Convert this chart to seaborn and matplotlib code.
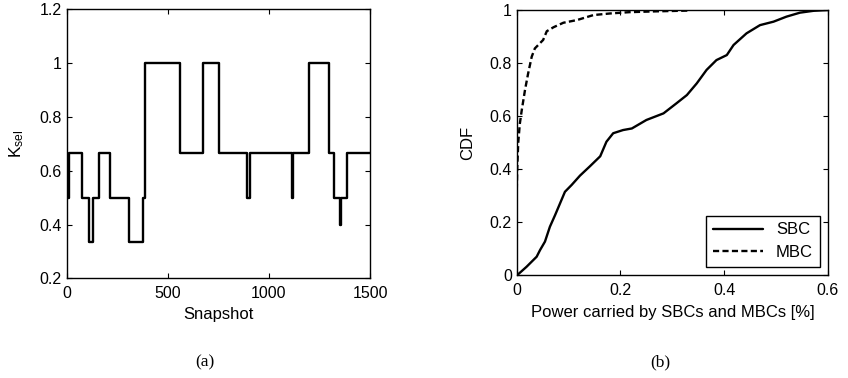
import matplotlib
matplotlib.use('Agg')
import matplotlib.pyplot as plt
import numpy as np
import pandas as pd
import seaborn as sns

# K_sel per snapshot (start of each step and its value)
snap_start = [0, 10, 74, 112, 132, 161, 214, 310, 379, 388, 560, 674, 753,
              892, 908, 1114, 1118, 1197, 1299, 1323, 1350, 1356, 1384, 1500]
ksel_level = [0.5, 2/3, 0.5, 1/3, 0.5, 2/3, 0.5, 1/3, 0.5, 1.0, 2/3, 1.0, 2/3,
              0.5, 2/3, 0.5, 2/3, 1.0, 2/3, 0.5, 0.4, 0.5, 2/3, 2/3]

# CDF of carried power
sbc_x = [0.0, 0.003, 0.019, 0.0385, 0.045, 0.0545, 0.064, 0.074, 0.0835, 0.093,
         0.106, 0.122, 0.141, 0.161, 0.173, 0.186, 0.205, 0.222, 0.25, 0.283,
         0.308, 0.328, 0.347, 0.366, 0.385, 0.405, 0.418, 0.443, 0.469, 0.495,
         0.52, 0.546, 0.572, 0.6]
sbc_y = [0.0, 0.003, 0.031, 0.069, 0.094, 0.126, 0.182, 0.226, 0.27, 0.314,
         0.34, 0.375, 0.41, 0.448, 0.503, 0.535, 0.547, 0.553, 0.585, 0.61,
         0.648, 0.679, 0.723, 0.774, 0.811, 0.83, 0.868, 0.912, 0.943, 0.956,
         0.975, 0.99, 0.997, 1.0]
mbc_x = [0.0, 0.0, 0.001, 0.003, 0.006, 0.0096, 0.016, 0.022, 0.029, 0.035,
         0.051, 0.058, 0.071, 0.09, 0.116, 0.148, 0.18, 0.218, 0.27, 0.334]
mbc_y = [0.0, 0.3, 0.4, 0.5, 0.57, 0.62, 0.698, 0.76, 0.824, 0.855,
         0.887, 0.92, 0.935, 0.952, 0.962, 0.981, 0.987, 0.992, 0.995, 0.998]

sns.set_theme(style='ticks')
plt.rcParams['font.family'] = ['Liberation Sans', 'DejaVu Sans']
plt.rcParams['mathtext.fontset'] = 'custom'
plt.rcParams['mathtext.rm'] = 'Liberation Sans'
plt.rcParams['mathtext.it'] = 'Liberation Sans:italic'
plt.rcParams.update({
    'font.size': 11.5,
    'legend.fontsize': 12,
    'axes.edgecolor': 'black',
    'axes.linewidth': 1.0,
    'xtick.direction': 'in',
    'ytick.direction': 'in',
    'xtick.top': True,
    'ytick.right': True,
    'xtick.major.size': 3.5,
    'ytick.major.size': 3.5,
    'xtick.major.width': 0.8,
    'ytick.major.width': 0.8,
    'xtick.color': 'black',
    'ytick.color': 'black',
    'xtick.labelsize': 11.5,
    'ytick.labelsize': 11.5,
    'xtick.major.pad': 5.5,
    'ytick.major.pad': 3.5,
    'text.color': 'black',
    'axes.labelcolor': 'black',
})

fig = plt.figure(figsize=(8.48, 3.78), dpi=100)
ax1 = fig.add_axes([0.0787, 0.2637, 0.3577, 0.7117])
ax2 = fig.add_axes([0.6093, 0.2725, 0.3671, 0.7010])

# (a) step plot
sns.lineplot(x=snap_start, y=ksel_level, ax=ax1, color='black', lw=1.7,
             drawstyle='steps-post', estimator=None, sort=False)
ax1.set_xlim(0, 1500)
ax1.set_ylim(0.2, 1.2)
ax1.set_xticks([0, 500, 1000, 1500])
ax1.set_xticklabels(['0', '500', '1000', '1500'])
ax1.set_yticks([0.2, 0.4, 0.6, 0.8, 1.0, 1.2])
ax1.set_yticklabels(['0.2', '0.4', '0.6', '0.8', '1', '1.2'])
ax1.set_xlabel('Snapshot')
ax1.set_ylabel(r'$\mathrm{K_{sel}}$', fontsize=12.5)
ax1.xaxis.set_label_coords(0.5, -0.105)
ax1.yaxis.set_label_coords(-0.135, 0.5)

# (b) CDF
sns.lineplot(x=sbc_x, y=sbc_y, ax=ax2, color='black', lw=1.7, label='SBC',
             estimator=None, sort=False)
sns.lineplot(x=mbc_x, y=mbc_y, ax=ax2, color='black', lw=1.7, label='MBC',
             estimator=None, sort=False, dashes=False)
ax2.lines[1].set_linestyle((0, (2.6, 1.4)))
ax2.set_xlim(0, 0.6)
ax2.set_ylim(0, 1)
ax2.set_xticks([0, 0.2, 0.4, 0.6])
ax2.set_xticklabels(['0', '0.2', '0.4', '0.6'])
ax2.set_yticks([0, 0.2, 0.4, 0.6, 0.8, 1.0])
ax2.set_yticklabels(['0', '0.2', '0.4', '0.6', '0.8', '1'])
ax2.set_xlabel('Power carried by SBCs and MBCs [%]')
ax2.set_ylabel('CDF')
ax2.xaxis.set_label_coords(0.5, -0.112)
ax2.yaxis.set_label_coords(-0.134, 0.5)
leg = ax2.legend(loc='lower right', fancybox=False, framealpha=1,
                 edgecolor='black', handlelength=3.0, borderaxespad=0.5,
                 labelspacing=0.45)
leg.get_frame().set_linewidth(1.0)
leg.get_lines()[1].set_linestyle((0, (2.6, 1.4)))

fig.text(204.7 / 848, 1 - 362 / 378, '(a)', ha='center', va='center',
         family=['Liberation Serif'], fontsize=12.5)
fig.text(660 / 848, 1 - 362 / 378, '(b)', ha='center', va='center',
         family=['Liberation Serif'], fontsize=12.5)

fig.savefig('out.png', dpi=100)
